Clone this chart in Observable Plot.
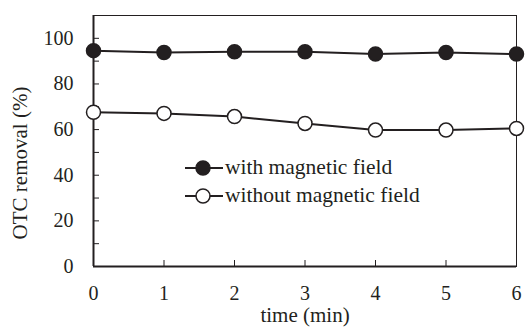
<!DOCTYPE html>
<html><head><meta charset="utf-8">
<script src="https://cdn.jsdelivr.net/npm/d3@7"></script>
<script src="https://cdn.jsdelivr.net/npm/@observablehq/plot@0.6"></script>
<style>
body{margin:0;background:#fff}
#wrap{position:relative;width:525px;height:327px;font-family:"Liberation Serif","Times New Roman",serif}
#legend{position:absolute;left:0;top:0;pointer-events:none}
</style>
</head><body><div id="wrap"></div>
<script>
const times = [0, 1, 2, 3, 4, 5, 6];
const withField = [94.6, 93.8, 94.1, 94.1, 93.1, 93.8, 93.1];
const withoutField = [67.6, 67.1, 65.7, 62.7, 59.8, 59.8, 60.5];
const xTicks = [0, 1, 2, 3, 4, 5, 6];
const yTickLabels = [0, 20, 40, 60, 80, 100];
const yTicks = [0, 10, 20, 30, 40, 50, 60, 70, 80, 90, 100];
const seriesNames = ["with magnetic field", "without magnetic field"];
const xLabel = "time (min)";
const yLabel = "OTC removal (%)";

const W = 525, H = 327;
const mL = 93, mR = 9, mT = 15, mB = 61;
const pw = W - mL - mR, ph = H - mT - mB;
const ink = "#231f20";
const serif = '"Liberation Serif","Times New Roman",serif';

const rows = [];
times.forEach((t, i) => {
  rows.push({t, v: withField[i], s: seriesNames[0]});
  rows.push({t, v: withoutField[i], s: seriesNames[1]});
});

const chart = Plot.plot({
  width: W, height: H,
  marginLeft: mL, marginRight: mR, marginTop: mT, marginBottom: mB,
  style: {fontFamily: serif, fontSize: "20px", color: ink, background: "#fff", overflow: "visible"},
  x: {domain: [0, 6]},
  y: {domain: [0, 110]},
  marks: [
    Plot.frame({stroke: ink, strokeWidth: 1}),
    Plot.tickX(xTicks, {x: d => d, stroke: ink, strokeWidth: 1, insetTop: ph - 6}),
    Plot.tickY(yTicks, {y: d => d, stroke: ink, strokeWidth: 1, insetRight: pw - 6}),
    Plot.ruleY([0], {stroke: ink, strokeWidth: 2}),
    Plot.ruleX([0], {stroke: ink, strokeWidth: 2}),
    Plot.axisX(xTicks, {tickSize: 0, tickPadding: 19, label: null, fontSize: 20, fill: ink}),
    Plot.axisY(yTickLabels, {tickSize: 0, tickPadding: 20, label: null, fontSize: 20, fill: ink}),
    Plot.text([xLabel], {text: d => d, frameAnchor: "bottom", textAnchor: "middle", dy: 49, fontSize: 21, fill: ink, lineAnchor: "middle"}),
    Plot.text([yLabel], {text: d => d, frameAnchor: "left", textAnchor: "middle", rotate: -90, dx: -73, dy: 22, fontSize: 21, fill: ink, lineAnchor: "middle"}),
    Plot.line(rows, {x: "t", y: "v", z: "s", stroke: ink, strokeWidth: 2}),
    Plot.dot(rows, {x: "t", y: "v", r: 7, stroke: ink, strokeWidth: 1.5,
      fill: d => d.s === seriesNames[0] ? ink : "#fff", clip: false})
  ]
});
document.getElementById("wrap").appendChild(chart);

// legend overlay
const lg = d3.select("#wrap").append("svg").attr("id", "legend").attr("width", W).attr("height", H);
const legendRows = [
  {name: seriesNames[0], fill: ink, y: 168},
  {name: seriesNames[1], fill: "#fff", y: 196}
];
legendRows.forEach(r => {
  lg.append("line").attr("x1", 185).attr("x2", 223).attr("y1", r.y).attr("y2", r.y)
    .attr("stroke", ink).attr("stroke-width", 2);
  lg.append("circle").attr("cx", 203).attr("cy", r.y).attr("r", 7)
    .attr("fill", r.fill).attr("stroke", ink).attr("stroke-width", 1.5);
  lg.append("text").attr("x", 225).attr("y", r.y).attr("dy", "0.3em")
    .attr("font-family", serif).attr("font-size", 21.5)
    .attr("fill", ink).text(r.name);
});
</script>
</body></html>
